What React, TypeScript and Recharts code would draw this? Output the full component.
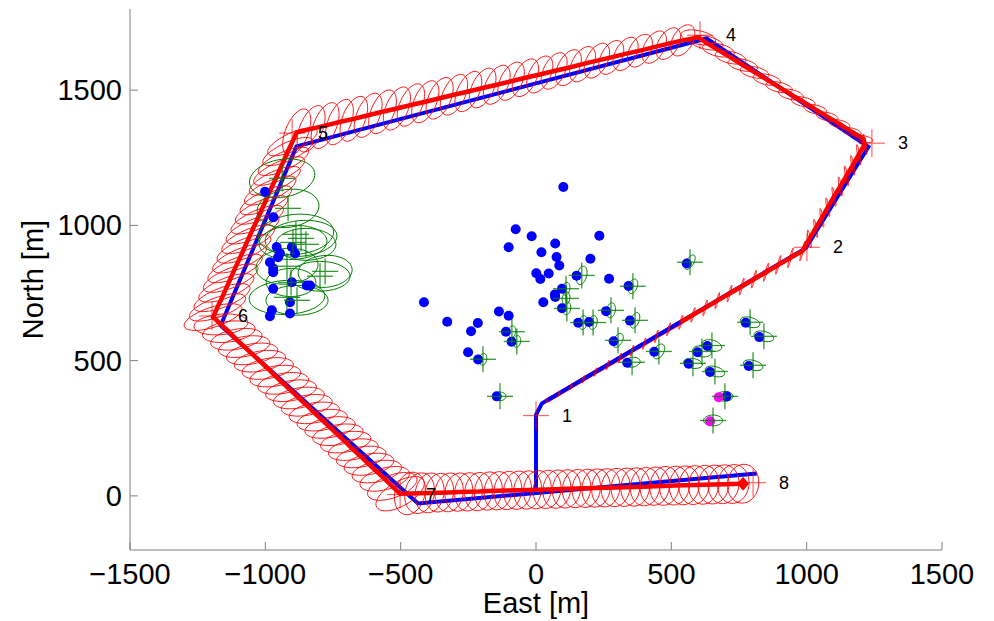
import { ComposedChart, Label, Line, Scatter, XAxis, YAxis } from "recharts";

const FONT = "'Liberation Sans', Arial, Helvetica, sans-serif";
const AXIS = "#7f7f7f";

const xTicks = [-1500, -1000, -500, 0, 500, 1000, 1500];
const yTicks = [0, 500, 1000, 1500];

// waypoints (red +) with their numbers
const wpX = [0, 1001, 1241, 606, -901, -1197, -502, 802];
const wpY = [297, 919, 1304, 1703, 1341, 665, 5, 49];
const wpName = ["1", "2", "3", "4", "5", "6", "7", "8"];

// true vehicle path (blue)
const trueX = [0, 0, 22, 997, 1228, 630, -885, -1165, -436, 816];
const trueY = [16, 300, 342, 916, 1290, 1691, 1292, 630, -28, 83];

// estimated track, one list per leg: [east, north, semi-major, semi-minor, angle deg]
type Ell = [number, number, number, number, number];

const leg12: Ell[] = [
  [40, 352, 8, 2, 75], [85, 378, 10, 2, 75], [130, 405, 12, 2, 75], [175, 431, 14, 2, 75],
  [220, 458, 16, 2, 75], [265, 484, 18, 2, 75], [310, 510, 19, 2, 75], [355, 537, 21, 2, 75],
  [400, 563, 22, 2, 75], [445, 590, 24, 2, 75], [490, 616, 25, 2, 75], [535, 642, 27, 3, 75],
  [580, 669, 28, 3, 75], [625, 695, 30, 3, 75], [670, 722, 31, 3, 75], [715, 748, 32, 3, 75],
  [760, 774, 33, 3, 75], [805, 801, 34, 3, 75], [850, 827, 35, 3, 75], [895, 854, 36, 3, 75],
  [940, 880, 37, 3, 75], [985, 906, 38, 3, 75],
];

const leg23: Ell[] = [
  [1010, 950, 34, 4, 100], [1033, 989, 34, 4, 100], [1056, 1028, 35, 4, 100], [1078, 1067, 35, 4, 100],
  [1101, 1106, 36, 4, 100], [1124, 1144, 36, 4, 100], [1147, 1183, 37, 4, 100], [1170, 1222, 37, 4, 100],
  [1192, 1261, 38, 4, 100], [1215, 1300, 38, 4, 100],
];

const leg34: Ell[] = [
  [1210, 1320, 35, 12, -12], [1165, 1347, 37, 13, -12], [1121, 1375, 39, 14, -12],
  [1076, 1402, 41, 15, -12], [1032, 1429, 43, 16, -12], [987, 1457, 45, 17, -12],
  [942, 1484, 47, 18, -12], [898, 1511, 50, 18, -12], [853, 1539, 52, 19, -12],
  [808, 1566, 54, 20, -12], [764, 1593, 56, 21, -12], [719, 1621, 58, 22, -12],
  [674, 1648, 60, 23, -12], [630, 1675, 62, 24, -12], [600, 1695, 65, 25, -12],
];

const leg45: Ell[] = [
  [542, 1684, 63, 37, 60], [489, 1672, 64, 37, 60], [437, 1659, 65, 37, 61], [384, 1646, 66, 38, 61],
  [331, 1634, 67, 38, 61], [278, 1621, 68, 38, 62], [225, 1609, 70, 38, 62], [172, 1596, 71, 39, 62],
  [120, 1583, 72, 39, 63], [67, 1571, 73, 39, 63], [14, 1558, 74, 39, 63], [-39, 1546, 75, 40, 64],
  [-92, 1533, 76, 40, 64], [-145, 1520, 78, 40, 64], [-197, 1508, 79, 40, 65], [-250, 1495, 80, 40, 65],
  [-303, 1483, 81, 41, 65], [-356, 1470, 82, 41, 66], [-409, 1457, 83, 41, 66], [-462, 1445, 84, 41, 66],
  [-514, 1432, 85, 41, 67], [-567, 1420, 86, 42, 67], [-620, 1407, 87, 42, 67], [-673, 1394, 88, 42, 68],
  [-726, 1382, 89, 42, 68], [-779, 1369, 90, 42, 68], [-831, 1357, 91, 42, 68], [-884, 1344, 92, 42, 68],
];

const leg56: Ell[] = [
  [-900, 1309, 100, 33, 25], [-917, 1273, 101, 33, 25], [-933, 1237, 102, 33, 25],
  [-949, 1201, 103, 33, 25], [-965, 1165, 103, 34, 25], [-982, 1129, 104, 34, 25],
  [-998, 1093, 104, 34, 25], [-1014, 1057, 105, 34, 24], [-1030, 1021, 105, 34, 24],
  [-1047, 985, 106, 35, 24], [-1063, 949, 106, 35, 24], [-1079, 913, 107, 35, 23],
  [-1095, 877, 107, 35, 23], [-1112, 841, 108, 35, 23], [-1128, 805, 108, 36, 22],
  [-1144, 769, 109, 36, 22], [-1160, 733, 110, 36, 21], [-1177, 697, 110, 36, 20],
  [-1193, 661, 112, 37, 18],
];

const leg67: Ell[] = [
  [-1164, 634, 100, 38, 5], [-1135, 607, 98, 38, 8], [-1107, 579, 96, 37, 10], [-1078, 552, 96, 37, 10],
  [-1049, 525, 96, 37, 10], [-1020, 498, 96, 37, 10], [-991, 471, 96, 37, 10], [-963, 443, 95, 37, 10],
  [-934, 416, 95, 37, 10], [-905, 389, 95, 37, 10], [-876, 362, 95, 37, 10], [-847, 335, 95, 37, 10],
  [-819, 307, 94, 37, 10], [-790, 280, 94, 37, 10], [-761, 253, 94, 37, 10], [-732, 226, 94, 37, 10],
  [-703, 199, 94, 37, 10], [-675, 171, 93, 37, 10], [-646, 144, 93, 37, 10], [-617, 117, 93, 38, 10],
  [-588, 90, 93, 38, 12], [-559, 63, 94, 40, 15], [-531, 35, 96, 42, 20], [-502, 8, 100, 45, 30],
];

const leg78: Ell[] = [
  [-466, 9, 80, 55, 75], [-430, 10, 76, 54, 78], [-393, 11, 74, 53, 80], [-357, 12, 72, 52, 80],
  [-321, 13, 72, 52, 82], [-285, 14, 71, 51, 82], [-249, 15, 71, 51, 82], [-212, 16, 71, 51, 82],
  [-176, 18, 71, 51, 82], [-140, 19, 71, 51, 82], [-104, 20, 71, 51, 82], [-68, 21, 71, 51, 82],
  [-31, 22, 71, 51, 82], [5, 23, 71, 51, 82], [41, 24, 71, 51, 82], [77, 25, 71, 51, 82],
  [113, 26, 71, 52, 82], [150, 27, 71, 52, 82], [186, 28, 71, 52, 82], [222, 29, 71, 52, 82],
  [258, 30, 71, 52, 82], [294, 31, 71, 53, 82], [331, 32, 71, 53, 82], [367, 33, 71, 53, 82],
  [403, 34, 71, 54, 82], [439, 36, 71, 54, 82], [475, 37, 72, 54, 82], [512, 38, 72, 55, 82],
  [548, 39, 72, 55, 82], [584, 40, 72, 56, 82], [620, 41, 72, 56, 82], [656, 42, 72, 57, 82],
  [693, 43, 72, 57, 82], [729, 44, 72, 58, 82], [765, 45, 72, 58, 82],
];

// landmarks (blue dots)
const lmX = [
  -1001, -970, -958, -946, -953, -983, -971, -971, -902, -890, -902, -847, -835, -971, -909, -976, -983, -909,
  101, -75, -16, -101, 71, 234, 20, 76, 86, 201, 1, 16, 47, 150, 270, 96, 70, 71, 27, 96, 342,
  -414, -328, -215, -240, -137, -101, -111, -90, -251, -214, -145, 156, 196, 259, 347, 287, 337,
  557, 775, 825, 437, 633, 597, 564, 643, 786, 704,
];
const lmY = [
  1124, 1030, 920, 897, 882, 864, 841, 827, 920, 896, 790, 778, 778, 766, 716, 686, 664, 674,
  1142, 986, 960, 919, 933, 962, 901, 883, 852, 877, 823, 802, 822, 814, 803, 766, 745, 735, 716, 694, 776,
  716, 644, 639, 609, 682, 666, 607, 570, 531, 504, 368, 640, 643, 683, 648, 572, 492,
  859, 640, 587, 533, 554, 531, 489, 458, 480, 368,
];

// beacons (magenta)
const bcX = [675, 643];
const bcY = [365, 276];

// landmark estimates near waypoints 5-6 (large green ellipses)
const clusterEst: Ell[] = [
  [-938, 1174, 122, 70, 10], [-916, 1063, 115, 70, 8], [-887, 967, 140, 74, 5], [-868, 952, 133, 66, 5],
  [-898, 937, 126, 63, 3], [-850, 930, 111, 59, 0], [-920, 849, 115, 66, 5], [-779, 830, 100, 59, 5],
  [-798, 812, 111, 55, 0], [-920, 734, 140, 63, 3], [-883, 723, 115, 55, 0], [-905, 789, 92, 52, 0],
];

// landmark estimates in the middle (small green ellipses)
const lmEst: Ell[] = [
  [-196, 505, 22, 14, 80], [-89, 607, 22, 14, 80], [-71, 571, 22, 14, 80], [-133, 368, 22, 16, 0],
  [111, 766, 24, 14, 80], [111, 730, 24, 14, 80], [114, 693, 24, 14, 80], [169, 815, 35, 18, 75],
  [174, 641, 26, 15, 80], [211, 641, 26, 15, 80], [277, 686, 28, 16, 80], [366, 649, 30, 15, 70],
  [303, 575, 28, 16, 60], [355, 494, 30, 18, 10], [358, 775, 28, 16, 70], [569, 864, 30, 14, 60],
  [791, 642, 37, 18, -15], [842, 590, 37, 18, -15], [454, 534, 30, 18, 60], [650, 556, 37, 20, -15],
  [613, 534, 35, 20, -10], [580, 490, 35, 18, -10], [661, 460, 37, 18, -15], [802, 483, 37, 18, -15],
  [698, 368, 30, 18, 0], [654, 279, 35, 20, 0],
];

type Pt = { x: number; y: number | null };

function outline(list: Ell[]): Pt[] {
  const pts: Pt[] = [];
  for (const [cx, cy, a, b, ang] of list) {
    const r = (ang * Math.PI) / 180;
    for (let k = 0; k <= 40; k++) {
      const t = (k / 40) * 2 * Math.PI;
      pts.push({
        x: cx + a * Math.cos(t) * Math.cos(r) - b * Math.sin(t) * Math.sin(r),
        y: cy + a * Math.cos(t) * Math.sin(r) + b * Math.sin(t) * Math.cos(r),
      });
    }
    pts.push({ x: cx, y: null });
  }
  return pts;
}

const track = [...leg12, ...leg23, ...leg34, ...leg45, ...leg56, ...leg67, ...leg78];
const trackPts = track.map(([x, y]) => ({ x, y }));
const trackUnder = trackPts.slice(0, 12);
const trackOver = trackPts.slice(11);
const trackEnd = [trackPts[trackPts.length - 1]];

const truePts = trueX.map((x, i) => ({ x, y: trueY[i] }));
const lmPts = lmX.map((x, i) => ({ x, y: lmY[i] }));
const bcPts = bcX.map((x, i) => ({ x, y: bcY[i] }));
const wpPts = wpX.map((x, i) => ({ x, y: wpY[i], name: wpName[i] }));
const estPts = [...clusterEst, ...lmEst].map(([x, y]) => ({ x, y }));

const redEll = outline(track);
const greenEll = outline([...clusterEst, ...lmEst]);

const fmt = (v: number) => (v < 0 ? `\u2212${-v}` : `${v}`);

function XTick(props: any) {
  const { x, y, payload } = props;
  return (
    <g>
      <line x1={x} x2={x} y1={y} y2={y - 8} stroke={AXIS} />
      <text x={x} y={y + 34} textAnchor="middle" fontSize={29} fontFamily={FONT} fill="#000">
        {fmt(payload.value)}
      </text>
    </g>
  );
}

function YTick(props: any) {
  const { x, y, payload } = props;
  return (
    <g>
      <line x1={x} x2={x + 8} y1={y} y2={y} stroke={AXIS} />
      <text x={x - 8} y={y + 10} textAnchor="end" fontSize={29} fontFamily={FONT} fill="#000">
        {fmt(payload.value)}
      </text>
    </g>
  );
}

const dot = (fill: string) => (p: any) => <circle cx={p.cx} cy={p.cy} r={5} fill={fill} />;

const greenCross = (p: any) => (
  <g stroke="#008000" strokeWidth={1.3} opacity={0.8}>
    <line x1={p.cx - 13} x2={p.cx + 13} y1={p.cy} y2={p.cy} />
    <line x1={p.cx} x2={p.cx} y1={p.cy - 13} y2={p.cy + 13} />
  </g>
);

const waypoint = (p: any) => (
  <g>
    <g stroke="#ff0000" strokeWidth={1.2} opacity={0.6}>
      <line x1={p.cx - 13} x2={p.cx + 13} y1={p.cy} y2={p.cy} />
      <line x1={p.cx} x2={p.cx} y1={p.cy - 14} y2={p.cy + 14} />
    </g>
    <text x={p.cx + 31} y={p.cy + 6} textAnchor="middle" fontSize={18} fontFamily={FONT} fill="#000">
      {p.payload.name}
    </text>
  </g>
);

const diamond = (p: any) => (
  <polygon
    points={`${p.cx},${p.cy - 7} ${p.cx + 6},${p.cy} ${p.cx},${p.cy + 7} ${p.cx - 6},${p.cy}`}
    fill="#ff0000"
  />
);

const lineProps = {
  type: "linear" as const,
  dataKey: "y",
  dot: false,
  activeDot: false,
  isAnimationActive: false,
  legendType: "none" as const,
};

export default function App() {
  return (
    <div style={{ position: "absolute", left: 0, top: 0, width: 994, height: 621, background: "#fff" }}>
      <ComposedChart width={994} height={621} margin={{ top: 9, right: 52, bottom: 0, left: 0 }}>
        <XAxis
          type="number"
          dataKey="x"
          domain={[-1500, 1500]}
          ticks={xTicks}
          interval={0}
          allowDataOverflow
          height={71}
          tickSize={0}
          tickMargin={0}
          tickLine={false}
          axisLine={{ stroke: AXIS }}
          tick={<XTick />}
        >
          <Label value="East [m]" position="insideBottom" offset={8} style={{ fontSize: 29, fontFamily: FONT, fill: "#000" }} />
        </XAxis>
        <YAxis
          type="number"
          dataKey="y"
          domain={[-200, 1800]}
          ticks={yTicks}
          interval={0}
          allowDataOverflow
          width={130}
          tickSize={0}
          tickMargin={0}
          tickLine={false}
          axisLine={{ stroke: AXIS }}
          tick={<YTick />}
        >
          <Label
            value="North [m]"
            angle={-90}
            position="insideLeft"
            offset={33}
            style={{ fontSize: 29, fontFamily: FONT, fill: "#000", textAnchor: "middle" }}
          />
        </YAxis>

        <Line {...lineProps} data={trackUnder} stroke="#ff0000" strokeWidth={4.5} />
        <Line {...lineProps} data={truePts} stroke="#0000ff" strokeWidth={4} />
        <Line {...lineProps} data={trackOver} stroke="#ff0000" strokeWidth={4.5} />
        <Line {...lineProps} data={redEll} stroke="#ff0000" strokeWidth={0.9} />
        <Line {...lineProps} data={greenEll} stroke="#008000" strokeWidth={1} />

        <Scatter data={lmPts} shape={dot("#0000ff")} isAnimationActive={false} />
        <Scatter data={bcPts} shape={dot("#ff00ff")} isAnimationActive={false} />
        <Scatter data={estPts} shape={greenCross} isAnimationActive={false} />
        <Scatter data={wpPts} shape={waypoint} isAnimationActive={false} />
        <Scatter data={trackEnd} shape={diamond} isAnimationActive={false} />
      </ComposedChart>
    </div>
  );
}
